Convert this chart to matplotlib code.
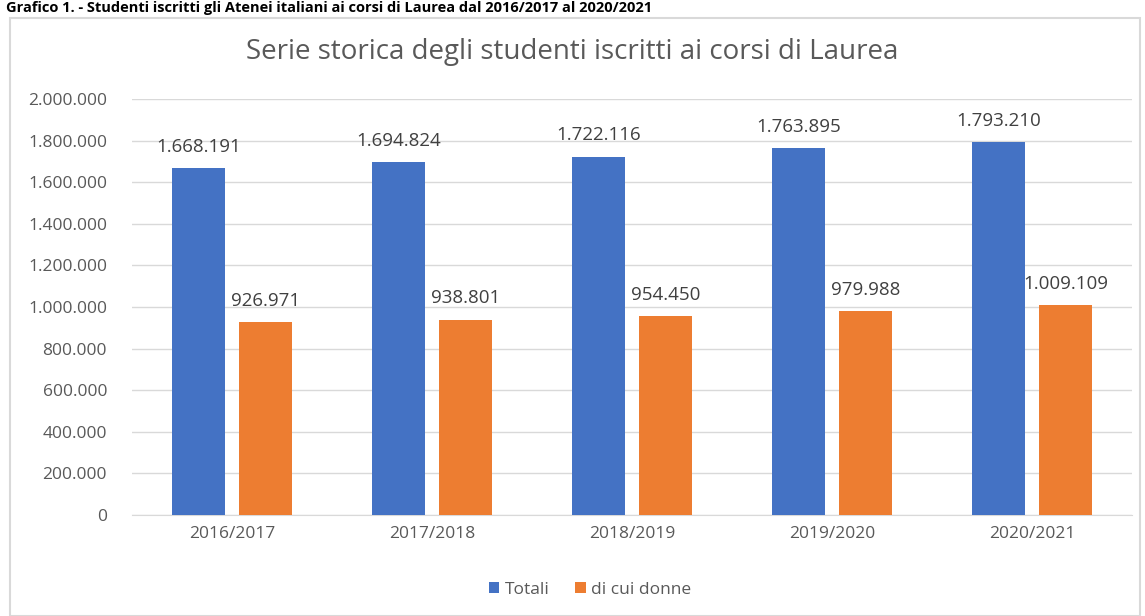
import matplotlib
matplotlib.use("Agg")
import matplotlib.pyplot as plt
import numpy as np
from matplotlib.patches import Rectangle

categories = ["2016/2017", "2017/2018", "2018/2019", "2019/2020", "2020/2021"]
totali = [1668191, 1694824, 1722116, 1763895, 1793210]
donne = [926971, 938801, 954450, 979988, 1009109]
series_names = ["Totali", "di cui donne"]
yticks = [0, 200000, 400000, 600000, 800000, 1000000, 1200000, 1400000, 1600000, 1800000, 2000000]

def fmt(v):
    return f"{v:,}".replace(",", ".")

plt.rcParams['font.family'] = ['Open Sans', 'DejaVu Sans']
txt = "#595959"
blue = "#4472C4"
orange = "#ED7D31"

fig = plt.figure(figsize=(11.45, 6.16), dpi=100)
fig.patch.set_facecolor("white")
fig.patches.append(Rectangle((10/1145, 0.0), 1130/1145, 1 - 18/616, transform=fig.transFigure,
                             fill=False, edgecolor="#D9D9D9", linewidth=1.5))
fig.text(0.005, 1.0 - 1/616, "Grafico 1. - Studenti iscritti gli Atenei italiani ai corsi di Laurea dal 2016/2017 al 2020/2021",
         fontsize=10.5, fontweight="bold", color="black", ha="left", va="top")

ax = fig.add_axes([132/1145, 1 - 515/616, 1000/1145, (515 - 99)/616])
x = np.arange(len(categories))
w = 0.265
off = 0.168
b1 = ax.bar(x - off, totali, w, color=blue, label=series_names[0], zorder=3)
b2 = ax.bar(x + off, donne, w, color=orange, label=series_names[1], zorder=3)
for bars, vals in ((b1, totali), (b2, donne)):
    for r, v in zip(bars, vals):
        ax.annotate(fmt(v), (r.get_x() + r.get_width() / 2, v), xytext=(0, 9),
                    textcoords="offset points", ha="center", va="bottom", fontsize=13.5, color="#404040")

ax.set_xlim(-0.5, len(categories) - 0.5)
ax.set_ylim(0, 2000000)
ax.set_yticks(yticks)
ax.set_yticklabels([fmt(v) for v in yticks], fontsize=12.5, color=txt)
ax.set_xticks(x)
ax.set_xticklabels(categories, fontsize=12.5, color=txt)
ax.tick_params(axis="both", length=0, pad=8)
ax.tick_params(axis="y", pad=18)
ax.grid(axis="y", color="#D9D9D9", linewidth=1, zorder=0)
for s in ["top", "right", "left"]:
    ax.spines[s].set_visible(False)
ax.spines["bottom"].set_color("#D9D9D9")

fig.text(0.5, 1 - 52/616, "Serie storica degli studenti iscritti ai corsi di Laurea", ha="center", va="center",
         fontsize=20, color=txt)
fig.legend(handles=[b1, b2], labels=series_names, loc="center", bbox_to_anchor=(590/1145, 1 - 590/616),
           ncol=2, frameon=False, fontsize=12.5, labelcolor=txt, handlelength=0.6, handleheight=0.6,
           handletextpad=0.3, columnspacing=1.5)

fig.savefig("out.png", dpi=100)
